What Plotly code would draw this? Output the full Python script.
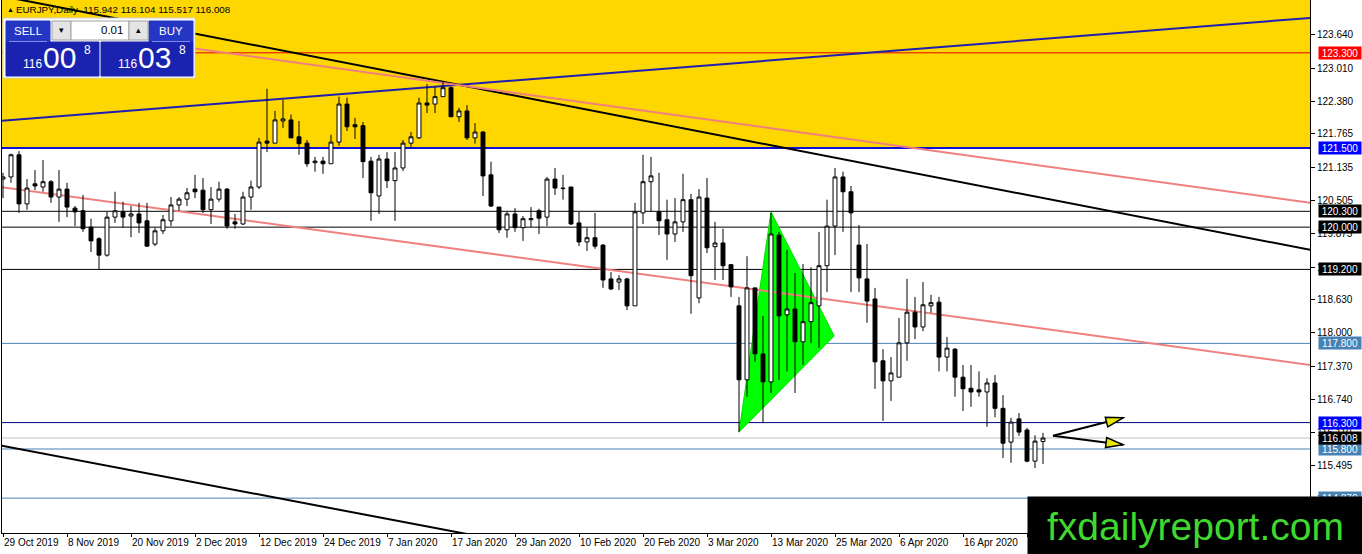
import pandas as pd
import plotly.graph_objects as go

## EURJPY daily bars, 29 Oct 2019 .. 30 Apr 2020 (no bars on 25 Dec and 1 Jan)
dates = [d.strftime("%Y-%m-%d") for d in pd.bdate_range("2019-10-29", "2020-04-30")
         if d.strftime("%m-%d") not in ("12-25", "01-01")]

open_ = [120.91, 120.95, 121.37, 120.44, 120.82, 120.76, 120.86, 120.57, 120.72, 120.36,
         120.31, 120.00, 119.78, 119.47, 120.19, 120.29, 120.21, 120.25, 120.12, 119.68,
         119.93, 120.12, 120.42, 120.53, 120.72, 120.70, 120.33, 120.53, 120.72, 120.10,
         120.06, 120.57, 120.76, 121.63, 121.59, 122.01, 122.03, 121.71, 121.59, 121.22,
         121.25, 121.20, 121.61, 122.33, 121.94, 121.92, 121.25, 120.59, 121.29, 120.88,
         121.12, 121.59, 121.69, 122.35, 122.33, 122.47, 122.64, 122.09, 122.20, 121.69,
         121.80, 120.99, 120.38, 119.95, 120.25, 119.99, 120.14, 120.31, 120.19, 120.91,
         120.74, 120.76, 120.08, 119.72, 119.80, 119.66, 119.02, 118.96, 119.02, 118.51,
         120.27, 120.86, 120.29, 120.14, 119.87, 120.10, 120.52, 118.66, 120.55, 119.63,
         119.70, 119.29, 118.51, 117.11, 118.85, 117.60, 117.07, 119.85, 118.34, 118.45,
         117.83, 118.21, 118.51, 119.27, 120.02, 120.95, 120.67, 119.66, 119.02, 118.64,
         117.47, 117.09, 117.16, 117.81, 118.39, 118.11, 118.51, 118.58, 117.54, 117.69,
         117.16, 116.95, 116.92, 116.88, 117.05, 116.57, 115.93, 116.37, 116.16, 115.57,
         115.942]
high = [121.03, 121.39, 121.44, 120.91, 121.08, 121.27, 120.89, 121.08, 120.84, 120.40,
        120.61, 120.16, 119.81, 120.29, 120.67, 120.48, 120.40, 120.46, 120.46, 119.99,
        120.23, 120.57, 120.57, 120.74, 120.99, 120.93, 120.76, 120.86, 120.74, 120.25,
        120.67, 120.88, 121.69, 122.62, 122.20, 122.41, 122.13, 122.01, 121.65, 121.33,
        121.33, 121.75, 122.47, 122.45, 122.07, 121.99, 121.33, 121.37, 121.42, 121.42,
        121.65, 121.80, 122.45, 122.71, 122.66, 122.75, 122.66, 122.26, 122.31, 121.97,
        121.82, 121.24, 120.38, 120.29, 120.36, 120.21, 120.38, 120.35, 120.95, 121.12,
        120.99, 120.76, 120.29, 119.99, 120.27, 119.68, 119.15, 119.09, 119.04, 120.46,
        121.37, 121.33, 121.03, 120.52, 120.55, 121.01, 120.63, 120.72, 120.93, 120.10,
        119.97, 119.29, 118.68, 119.45, 118.85, 118.32, 120.27, 119.91, 119.57, 119.13,
        119.30, 119.24, 119.91, 120.52, 121.12, 121.05, 120.78, 120.04, 119.68, 118.85,
        117.69, 117.54, 118.28, 119.02, 118.68, 118.96, 118.72, 118.68, 117.92, 117.71,
        117.39, 117.39, 117.27, 117.14, 117.20, 116.82, 116.39, 116.48, 116.20, 116.06,
        116.104]
low = [120.55, 120.84, 120.27, 120.33, 120.70, 120.67, 120.46, 120.10, 120.19, 120.02,
       119.91, 119.53, 119.21, 119.44, 120.08, 119.99, 119.81, 119.89, 119.63, 119.64,
       119.87, 120.02, 120.31, 120.40, 120.55, 120.27, 120.06, 120.48, 119.97, 119.97,
       120.04, 120.33, 120.72, 121.42, 121.59, 121.88, 121.69, 121.37, 121.14, 121.05,
       121.01, 121.20, 121.54, 121.82, 121.67, 120.93, 120.12, 120.25, 120.74, 120.12,
       121.06, 121.52, 121.67, 122.16, 122.16, 122.47, 122.09, 121.99, 121.65, 121.58,
       120.59, 120.38, 119.89, 119.80, 119.91, 119.74, 120.00, 119.87, 120.02, 120.61,
       120.52, 120.04, 119.64, 119.55, 119.59, 118.85, 118.81, 118.81, 118.43, 118.51,
       120.06, 120.29, 119.85, 119.38, 119.72, 119.91, 118.36, 118.56, 119.51, 119.00,
       119.00, 118.68, 116.12, 116.79, 117.45, 116.29, 116.86, 117.11, 117.27, 116.86,
       117.39, 117.81, 117.71, 118.77, 119.47, 119.91, 118.77, 118.77, 118.19, 116.94,
       116.33, 116.71, 117.16, 117.47, 117.88, 118.03, 118.38, 117.27, 117.27, 116.79,
       116.52, 116.60, 116.79, 116.22, 116.40, 115.63, 115.54, 116.05, 115.55, 115.44,
       115.517]
close = [120.95, 121.37, 120.44, 120.74, 120.78, 120.86, 120.57, 120.72, 120.38, 120.29,
         119.97, 119.74, 119.47, 120.19, 120.31, 120.19, 120.25, 120.08, 119.64, 119.93,
         120.14, 120.42, 120.53, 120.65, 120.67, 120.33, 120.53, 120.72, 120.02, 120.06,
         120.57, 120.76, 121.61, 121.59, 122.03, 122.05, 121.69, 121.58, 121.20, 121.25,
         121.20, 121.61, 122.33, 121.90, 121.90, 121.24, 120.65, 121.29, 120.88, 121.12,
         121.59, 121.71, 122.35, 122.31, 122.47, 122.64, 122.09, 122.20, 121.69, 121.80,
         120.97, 120.40, 119.95, 120.25, 119.99, 120.16, 120.16, 120.17, 120.91, 120.74,
         120.73, 120.06, 119.72, 119.80, 119.64, 119.00, 118.83, 119.02, 118.51, 120.29,
         120.86, 120.97, 120.12, 119.87, 120.10, 120.52, 119.08, 120.57, 119.61, 119.70,
         119.27, 118.87, 117.11, 118.85, 117.60, 117.07, 119.87, 118.32, 118.45, 117.83,
         118.21, 118.57, 119.27, 120.02, 120.95, 120.67, 120.27, 119.04, 118.60, 117.45,
         117.09, 117.24, 117.81, 118.39, 118.11, 118.53, 118.57, 117.54, 117.71, 117.16,
         116.94, 116.88, 116.88, 117.05, 116.57, 115.91, 116.31, 116.12, 115.57, 115.95,
         116.008]

## price axis labels and bottom date labels (every 8th bar)
price_ticks = [123.640, 123.010, 122.380, 121.765, 121.135, 120.505, 119.875, 119.245,
               118.630, 118.000, 117.370, 116.740, 116.110, 115.495, 114.865]
date_labels = ["29 Oct 2019", "8 Nov 2019", "20 Nov 2019", "2 Dec 2019", "12 Dec 2019",
               "24 Dec 2019", "7 Jan 2020", "17 Jan 2020", "29 Jan 2020", "10 Feb 2020",
               "20 Feb 2020", "3 Mar 2020", "13 Mar 2020", "25 Mar 2020", "6 Apr 2020",
               "16 Apr 2020", "28 Apr 2020"]

## horizontal levels drawn on the chart
level_prices = [123.300, 121.500, 120.300, 120.000, 119.200, 117.800, 116.300, 115.800, 114.870]
level_colors = ["#e00000", "#1010d0", "black", "black", "black", "#4682b4", "#000080", "#4682b4", "#4682b4"]
level_tags = ["#ff0000", "#0000ff", "black", "black", "black", "#4682b4", "#0000ff", "#4682b4", "#4682b4"]
level_widths = [1, 2, 1, 1, 1, 1, 1, 1, 1]
last_price = 116.008
zone_bottom = 121.500

## trend lines as (bar index, price) anchors
trend_lines = [
    ((-0.4, 122.01), (163.4, 123.96), "#1e1eb0"),
    ((-0.4, 124.38), (163.4, 119.57), "black"),
    ((-0.4, 123.89), (163.4, 120.46), "#f08080"),
    ((-0.4, 120.76), (163.4, 117.39), "#f08080"),
    ((-0.4, 115.87), (163.4, 111.16), "black"),
]
triangle = [(92.0, 116.12), (96.0, 120.29), (103.9, 117.94)]
arrow_start = (131.25, 116.05)
arrow_tips = [(140.0, 116.39), (140.0, 115.88)]

## geometry of the page (pixels)
W, H = 1362, 554
PL, PR, PT, PB = 2, 1310, 0, 533
X_RANGE = [-0.125, 163.375]
Y_RANGE = [114.21, 124.30]
px_per_bar = (PR - PL) / (X_RANGE[1] - X_RANGE[0])
px_per_yen = (PB - PT) / (Y_RANGE[1] - Y_RANGE[0])


def paper_x(px):
    return (px - PL) / (PR - PL)


def paper_y(py):
    return (PB - py) / (PB - PT)


fig = go.Figure()
fig.add_trace(go.Candlestick(
    x=dates, open=open_, high=high, low=low, close=close,
    increasing=dict(line=dict(color="black", width=1), fillcolor="white"),
    decreasing=dict(line=dict(color="black", width=1), fillcolor="black"),
    whiskerwidth=0, showlegend=False, hoverinfo="skip",
))

shapes = []
## yellow zone above 121.500
shapes.append(dict(type="rect", xref="paper", yref="y", x0=0, x1=1, y0=zone_bottom, y1=Y_RANGE[1] + 1,
                   fillcolor="#ffd700", line_width=0, layer="below"))
## green triangle
tri_path = "M {} {} L {} {} L {} {} Z".format(*[v for pt in triangle for v in pt])
shapes.append(dict(type="path", xref="x", yref="y", path=tri_path,
                   fillcolor="#00ff00", line=dict(color="#00e000", width=1), layer="below"))
## horizontal levels
for p, c, w in zip(level_prices, level_colors, level_widths):
    shapes.append(dict(type="line", xref="paper", yref="y", x0=0, x1=1, y0=p, y1=p,
                       line=dict(color=c, width=w), layer="below"))
shapes.append(dict(type="line", xref="paper", yref="y", x0=0, x1=1, y0=last_price, y1=last_price,
                   line=dict(color="#c0c0c0", width=1), layer="below"))
## trend lines
for (a, b, c) in trend_lines:
    shapes.append(dict(type="line", xref="x", yref="y", x0=a[0], y0=a[1], x1=b[0], y1=b[1],
                       line=dict(color=c, width=2), layer="below"))

## the two arrows with yellow heads
for tip in arrow_tips:
    shapes.append(dict(type="line", xref="x", yref="y", x0=arrow_start[0], y0=arrow_start[1],
                       x1=tip[0], y1=tip[1], line=dict(color="black", width=2)))
    dx = (tip[0] - arrow_start[0]) * px_per_bar
    dy = (tip[1] - arrow_start[1]) * px_per_yen
    n = (dx ** 2 + dy ** 2) ** 0.5
    ux, uy = dx / n, dy / n
    bx, by = -17 * ux, -17 * uy
    pts = [(0, 0), (bx - 5 * uy, by + 5 * ux), (bx + 5 * uy, by - 5 * ux)]
    path = "M " + " L ".join("{} {}".format(tip[0] + x / px_per_bar, tip[1] + y / px_per_yen) for x, y in pts) + " Z"
    shapes.append(dict(type="path", xref="x", yref="y", path=path,
                       fillcolor="#e8e800", line=dict(color="black", width=1.5)))


## one-click trading panel (top left)
def box(x0, y0, x1, y1, fill, line=None):
    shapes.append(dict(type="rect", xref="paper", yref="paper",
                       x0=paper_x(x0), x1=paper_x(x1), y0=paper_y(y1), y1=paper_y(y0),
                       fillcolor=fill, line=dict(color=line or fill, width=1), layer="above"))


box(3, 18, 195, 78, "white", "#d0d0d0")
box(6, 21, 50, 42, "#2536c4")
box(149, 21, 193, 42, "#2536c4")
box(6, 42, 99, 76, "#1a22b0")
box(101, 42, 193, 76, "#1a22b0")
box(52, 21, 71, 40, "#e4e4e4", "#a0a0a0")
box(71, 21, 129, 40, "white", "#a0a0a0")
box(129, 21, 148, 40, "#e4e4e4", "#a0a0a0")
for x0, x1 in [(9, 47), (152, 190)]:
    shapes.append(dict(type="line", xref="paper", yref="paper", x0=paper_x(x0), x1=paper_x(x1),
                       y0=paper_y(41.5), y1=paper_y(41.5), line=dict(color="#7f8ce8", width=1), layer="above"))

annotations = []


def label(px, py, text, size, color, xanchor="left", family="Liberation Sans"):
    annotations.append(dict(xref="paper", yref="paper", x=paper_x(px), y=paper_y(py), text=text,
                            showarrow=False, xanchor=xanchor, yanchor="middle",
                            font=dict(family=family, size=size, color=color)))


label(5, 10, "▲", 7, "black")
label(14, 10, "EURJPY,Daily  115.942 116.104 115.517 116.008", 9.8, "black")
label(28, 31, "SELL", 11.5, "white", "center")
label(171, 31, "BUY", 11.5, "white", "center")
label(61, 30, "▾", 9, "black", "center")
label(138, 30, "▴", 9, "black", "center")
label(125, 30, "0.01", 11.5, "black", "right")
for x_small, x_big, x_sup, big in [(21, 41, 82, "00"), (116, 136, 177, "03")]:
    label(x_small, 64, "116", 12, "white")
    label(x_big, 58, big, 30, "white")
    label(x_sup, 50, "8", 12, "white")

## price tags on the right axis
for p, c in zip(level_prices, level_tags):
    annotations.append(dict(xref="paper", yref="y", x=paper_x(1318), y=p, text="{:.3f}".format(p),
                            showarrow=False, xanchor="left", yanchor="middle", width=40, height=10,
                            bgcolor=c, borderpad=1, font=dict(family="Liberation Sans", size=10, color="white")))
annotations.append(dict(xref="paper", yref="y", x=paper_x(1318), y=last_price, text="{:.3f}".format(last_price),
                        showarrow=False, xanchor="left", yanchor="middle", width=40, height=10,
                        bgcolor="black", borderpad=1, font=dict(family="Liberation Sans", size=10, color="white")))

## watermark box in the bottom right
annotations.append(dict(xref="paper", yref="paper", x=paper_x(1027), y=paper_y(496), text="fxdailyreport.com",
                        showarrow=False, xanchor="left", yanchor="top", width=335, height=58,
                        bgcolor="black", borderpad=0, align="center", valign="middle",
                        font=dict(family="Liberation Sans", size=39, color="#3fd82e")))

fig.update_layout(
    width=W, height=H,
    margin=dict(l=PL, r=W - PR, t=PT, b=H - PB, autoexpand=False),
    paper_bgcolor="white", plot_bgcolor="white",
    shapes=shapes, annotations=annotations,
    xaxis=dict(type="category", range=X_RANGE, rangeslider=dict(visible=False),
               tickmode="array", tickvals=dates[::8], ticktext=date_labels, tickangle=0,
               ticks="outside", ticklen=3, tickcolor="black", ticklabelposition="outside right",
               tickfont=dict(family="Liberation Sans", size=10, color="black"),
               showgrid=False, showline=True, linecolor="black", linewidth=1, mirror=True, zeroline=False),
    yaxis=dict(side="right", range=Y_RANGE, tickmode="array", tickvals=price_ticks,
               ticktext=["{:.3f}".format(t) for t in price_ticks],
               ticks="outside", ticklen=4, tickcolor="black",
               tickfont=dict(family="Liberation Sans", size=10, color="black"),
               showgrid=False, showline=True, linecolor="black", linewidth=1, mirror=True, zeroline=False),
    hovermode=False,
)

## the page body has a default 8px margin; drop it so the chart sits at the window corner
fig.write_html("out.html", config={"displayModeBar": False},
               post_script="document.body.style.margin='0px';")
